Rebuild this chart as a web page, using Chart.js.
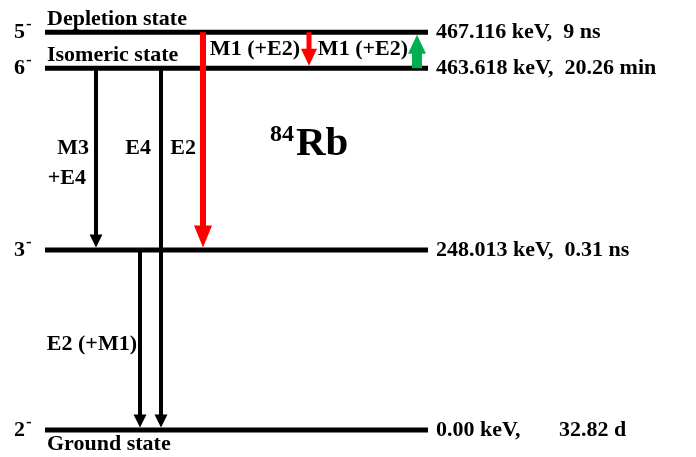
<!DOCTYPE html>
<html>
<head>
<meta charset="utf-8">
<script src="https://cdn.jsdelivr.net/npm/chart.js@4.4.1/dist/chart.umd.min.js"></script>
<style>
    html, body { margin: 0; padding: 0; background: #fff; }
    #wrap { width: 696px; height: 457px; position: relative; }
</style>
</head>
<body>
<div id="wrap"><canvas id="scheme"></canvas></div>
<script>
// 84Rb level scheme, vertical spacing is schematic (not to scale)
var levelEnergy = ['467.116', '463.618', '248.013', '0.00'];
var levelHalfLife = ['9 ns', '20.26 min', '0.31 ns', '32.82 d'];
var levelSpin = ['5', '6', '3', '2'];
var levelParity = ['-', '-', '-', '-'];
var levelName = ['Depletion state', 'Isomeric state', '', 'Ground state'];
var levelPos = [2.21, 2.01, 1, 0];

// transitions: index into the level arrays
var transFrom = [1, 1, 0, 0, 1, 2];
var transTo = [2, 3, 2, 1, 0, 3];
var transX = [96, 161, 203, 309, 417, 140];
var transLabel = [['M3', '+E4'], ['E4'], ['E2'], ['M1 (+E2)'], ['M1 (+E2)'], ['E2 (+M1)']];
var transLabelY = [1.533, 1.533, 1.533, 2.083, 2.083, 0.444];

// ---- layout / styling ----
var FONT = '"Liberation Serif", "Times New Roman", serif';
var transStyle = ['black', 'black', 'red', 'redSmall', 'green', 'black'];
var arrowStyles = {
    black:    { color: '#000000', shaft: 4,  wing: 13, head: 13 },
    red:      { color: '#ff0000', shaft: 6,  wing: 18, head: 22 },
    redSmall: { color: '#ff0000', shaft: 5,  wing: 16, head: 17 },
    green:    { color: '#00b050', shaft: 10, wing: 18, head: 19 }
};
var labelDx = [-7, -10, -7, -9, -9, -3];
var levelLeft = 45, levelRight = 428;

function drawArrow(ctx, x, y0, y1, st) {
    var dir = y1 > y0 ? 1 : -1;
    var base = y1 - dir * st.head;
    ctx.fillStyle = st.color;
    var top = Math.min(y0, base + dir), h = Math.abs(base + dir - y0);
    ctx.fillRect(x - st.shaft / 2, top, st.shaft, h);
    ctx.beginPath();
    ctx.moveTo(x - st.wing / 2, base);
    ctx.lineTo(x + st.wing / 2, base);
    ctx.lineTo(x, y1);
    ctx.closePath();
    ctx.fill();
}

var schemePlugin = {
    id: 'scheme',
    afterDatasetsDraw: function (chart) {
        var ctx = chart.ctx, xs = chart.scales.x, ys = chart.scales.y;
        ctx.save();

        // gamma transitions
        for (var i = 0; i < transX.length; i++) {
            var st = arrowStyles[transStyle[i]];
            var x = xs.getPixelForValue(transX[i]);
            var y0 = ys.getPixelForValue(levelPos[transFrom[i]]);
            var y1 = ys.getPixelForValue(levelPos[transTo[i]]);
            y1 += (y1 > y0) ? -2.5 : 2.5;
            drawArrow(ctx, x, y0, y1, st);
        }

        ctx.fillStyle = '#000';
        ctx.textBaseline = 'alphabetic';

        // transition labels
        ctx.font = 'bold 22px ' + FONT;
        ctx.textAlign = 'right';
        for (var i = 0; i < transLabel.length; i++) {
            var lx = xs.getPixelForValue(transX[i]) + labelDx[i];
            var ly = ys.getPixelForValue(transLabelY[i]);
            for (var k = 0; k < transLabel[i].length; k++) {
                ctx.fillText(transLabel[i][k], lx - k * 3, ly + k * 30);
            }
        }

        // level labels
        ctx.textAlign = 'left';
        for (var j = 0; j < levelPos.length; j++) {
            var py = ys.getPixelForValue(levelPos[j]);
            ctx.font = 'bold 22px ' + FONT;
            var right = levelEnergy[j] + ' keV,  ' + levelHalfLife[j];
            if (levelEnergy[j] === '0.00') right = levelEnergy[j] + ' keV,       ' + levelHalfLife[j];
            ctx.fillText(right, 436, py + 6);
            if (levelName[j]) {
                var ny = (j === levelPos.length - 1) ? py + 20 : py - 7;
                ctx.fillText(levelName[j], 47, ny);
            }
            ctx.font = 'bold 22px ' + FONT;
            ctx.fillText(levelSpin[j], 14, py + 6);
            var w = ctx.measureText(levelSpin[j]).width;
            ctx.font = 'bold 17px ' + FONT;
            ctx.fillText(levelParity[j], 15 + w, py - 3);
        }

        // nucleus name
        var rx = xs.getPixelForValue(270), ry = ys.getPixelForValue(1.528);
        ctx.font = 'bold 24px ' + FONT;
        ctx.fillText('84', rx, ry - 14);
        var sw = ctx.measureText('84').width;
        ctx.font = 'bold 41px ' + FONT;
        ctx.fillText('Rb', rx + sw + 2, ry);

        ctx.restore();
    }
};

var levelSets = levelPos.map(function (p) {
    return {
        data: [{ x: levelLeft, y: p }, { x: levelRight, y: p }],
        borderColor: '#000',
        borderWidth: 5,
        borderCapStyle: 'butt',
        pointRadius: 0,
        fill: false
    };
});

var chart = new Chart(document.getElementById('scheme').getContext('2d'), {
    type: 'line',
    data: { datasets: levelSets },
    options: {
        responsive: true,
        maintainAspectRatio: false,
        animation: false,
        events: [],
        layout: { padding: 0 },
        plugins: { legend: { display: false }, tooltip: { enabled: false } },
        scales: {
            x: { type: 'linear', min: 0, max: 696, display: false },
            y: { type: 'linear', min: -0.150, max: 2.389, display: false }
        }
    },
    plugins: [schemePlugin]
});
</script>
</body>
</html>
